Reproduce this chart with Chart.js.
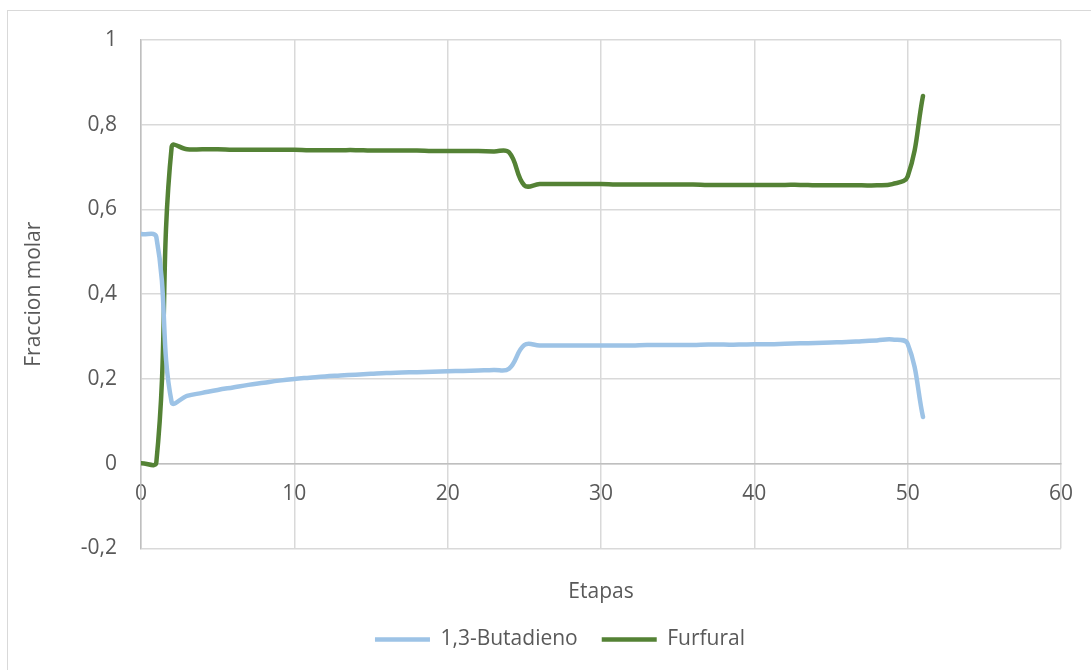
<!DOCTYPE html>
<html>
<head>
<meta charset="utf-8">
<title>Fraccion molar por etapa</title>
<script src="https://cdn.jsdelivr.net/npm/chart.js@4.4.1/dist/chart.umd.min.js"></script>
<style>
  html, body { margin: 0; padding: 0; background: #fff; }
  #wrap { position: relative; width: 1091px; height: 670px; overflow: hidden; }
  #frame { position: absolute; left: 7px; top: 10px; width: 1100px; height: 680px; border: 1.5px solid #d9d9d9; box-sizing: border-box; }
  canvas { position: absolute; left: 0; top: 0; }
</style>
</head>
<body>
<div id="wrap">
  <div id="frame"></div>
  <canvas id="chart" width="1091" height="670"></canvas>
</div>
<script>
// Etapas (stages) on the x axis
const etapas = [0, 1, 2, 3, 4, 5, 6, 7, 8, 9, 10, 11, 12, 13, 14, 15, 16, 17, 18, 19,
    20, 21, 22, 23, 24, 25, 26, 27, 28, 29, 30, 31, 32, 33, 34, 35, 36, 37, 38, 39,
    40, 41, 42, 43, 44, 45, 46, 47, 48, 49, 50, 51];

// Fraccion molar
const butadieno = [0.542, 0.535, 0.145, 0.160, 0.167, 0.174, 0.180, 0.186, 0.191, 0.196,
    0.200, 0.203, 0.206, 0.208, 0.210, 0.212, 0.214, 0.215, 0.216, 0.217,
    0.218, 0.219, 0.220, 0.221, 0.224, 0.280, 0.279, 0.279, 0.279, 0.279,
    0.279, 0.279, 0.279, 0.280, 0.280, 0.280, 0.280, 0.281, 0.281, 0.281,
    0.282, 0.282, 0.283, 0.284, 0.285, 0.286, 0.287, 0.289, 0.291, 0.293,
    0.283, 0.110];

const furfural = [0.001, 0.003, 0.748, 0.742, 0.742, 0.742, 0.741, 0.741, 0.741, 0.741,
    0.741, 0.740, 0.740, 0.740, 0.740, 0.739, 0.739, 0.739, 0.739, 0.738,
    0.738, 0.738, 0.738, 0.737, 0.735, 0.657, 0.660, 0.660, 0.660, 0.660,
    0.660, 0.659, 0.659, 0.659, 0.659, 0.659, 0.659, 0.658, 0.658, 0.658,
    0.658, 0.658, 0.658, 0.658, 0.657, 0.657, 0.657, 0.657, 0.657, 0.660,
    0.678, 0.868];

const xTicks = { min: 0, max: 60, step: 10 };
const yTicks = { min: -0.2, max: 1, step: 0.2 };

const gridColor = '#d9d9d9';
const axisColor = '#bfbfbf';
const textColor = '#595959';

Chart.defaults.font.family = "'Open Sans', sans-serif";
Chart.defaults.font.size = 21;
Chart.defaults.color = textColor;

function toPoints(values) {
    return etapas.map((e, i) => ({ x: e, y: values[i] }));
}

// decimal comma like the original
function formatTick(v) {
    const r = Math.round(v * 10) / 10;
    return String(r).replace('.', ',');
}

const config = {
    type: 'line',
    data: {
        datasets: [
            {
                label: '1,3-Butadieno',
                data: toPoints(butadieno),
                borderColor: '#9dc3e6',
                backgroundColor: '#9dc3e6',
                borderWidth: 4.5,
                borderCapStyle: 'round',
                borderJoinStyle: 'round',
                pointRadius: 0,
                tension: 0.4,
                fill: false
            },
            {
                label: 'Furfural',
                data: toPoints(furfural),
                borderColor: '#548235',
                backgroundColor: '#548235',
                borderWidth: 4.5,
                borderCapStyle: 'round',
                borderJoinStyle: 'round',
                pointRadius: 0,
                tension: 0.4,
                fill: false
            }
        ]
    },
    options: {
        responsive: false,
        animation: false,
        layout: { padding: { top: 40, right: 26, left: 55, bottom: 10 } },
        plugins: {
            legend: {
                position: 'bottom',
                labels: {
                    usePointStyle: true,
                    pointStyle: 'line',
                    pointStyleWidth: 55,
                    padding: 24,
                    color: textColor
                }
            },
            tooltip: { enabled: false }
        },
        scales: {
            x: {
                type: 'linear',
                position: { y: 0 },
                min: xTicks.min,
                max: xTicks.max,
                ticks: { stepSize: xTicks.step, padding: 18 },
                grid: { color: gridColor, lineWidth: 1.5, drawTicks: false },
                border: { color: axisColor, width: 1.5 }
            },
            x2: {
                type: 'linear',
                position: 'bottom',
                min: xTicks.min,
                max: xTicks.max,
                grid: { display: false, drawTicks: false },
                border: { display: false },
                ticks: { display: false },
                title: { display: true, text: 'Etapas', padding: 0 },
                afterFit: s => { s.height = 56.6; }
            },
            y: {
                type: 'linear',
                position: 'left',
                min: yTicks.min,
                max: yTicks.max,
                ticks: { stepSize: yTicks.step, padding: 24, callback: formatTick },
                grid: { color: gridColor, lineWidth: 1.5, drawTicks: false },
                border: { color: axisColor, width: 1.5 },
                title: { display: true, text: 'Fraccion molar', padding: { top: -34, bottom: 0 } },
                afterFit: s => { s.width = 86; }
            }
        }
    }
};

window.onload = function() {
    const ctx = document.getElementById('chart').getContext('2d');
    window.molarChart = new Chart(ctx, config);
};
</script>
</body>
</html>
